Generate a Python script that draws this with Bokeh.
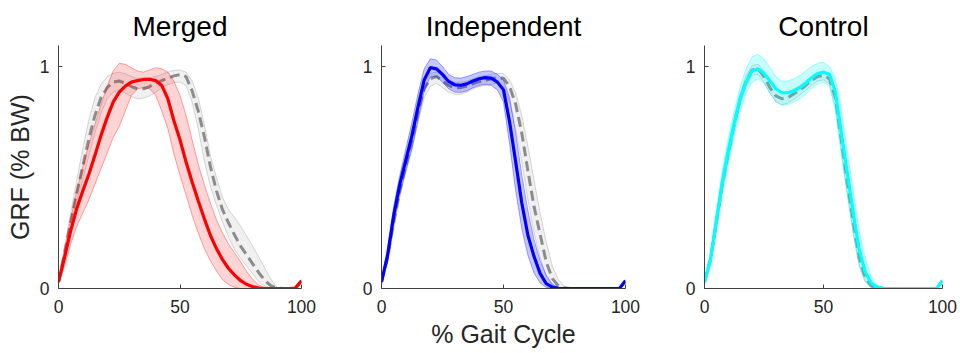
from bokeh.plotting import figure
from bokeh.layouts import row
from bokeh.models import Range1d, FixedTicker
from bokeh.embed import file_html
from bokeh.resources import INLINE

FONT = "Liberation Sans"

# % gait cycle sample points
X = [0, 2.5, 5, 7.5, 10, 12.5, 15, 17.5, 20, 22.5, 25, 27.5, 30, 32.5, 35, 37.5, 40,
     42.5, 45, 47.5, 50, 52.5, 55, 57.5, 60, 62.5, 65, 67.5, 70, 72.5, 75, 77.5, 80,
     82.5, 85, 87.5, 90, 92.5, 95, 97.5, 100]

titles = ["Merged", "Independent", "Control"]
colors = ["#ff0000", "#0000ff", "#00ffff"]
x_ticks = [0, 50, 100]
y_ticks = [0, 1]

# --- Merged group ---
merged_mean = [0.03, 0.14, 0.26, 0.36, 0.44, 0.515, 0.6, 0.69, 0.77, 0.84, 0.885, 0.912, 0.93, 0.937,
               0.942, 0.943, 0.937, 0.915, 0.855, 0.756, 0.67, 0.57, 0.48, 0.395, 0.315, 0.24, 0.18,
               0.13, 0.09, 0.06, 0.035, 0.018, 0.008, 0.002, 0, 0, 0, 0, 0, 0.002, 0.035]
merged_hi = [0.04, 0.17, 0.31, 0.44, 0.55, 0.65, 0.74, 0.83, 0.91, 0.98, 1.015, 1.01, 0.995, 0.98,
             0.975, 0.985, 0.995, 0.99, 0.975, 0.935, 0.87, 0.78, 0.67, 0.56, 0.47, 0.385, 0.31,
             0.25, 0.2, 0.16, 0.12, 0.075, 0.04, 0.015, 0.003, 0, 0, 0, 0, 0.003, 0.04]
merged_lo = [0.02, 0.1, 0.2, 0.28, 0.34, 0.4, 0.47, 0.54, 0.61, 0.68, 0.73, 0.8, 0.87, 0.9, 0.905,
             0.9, 0.87, 0.8, 0.72, 0.606, 0.51, 0.42, 0.33, 0.25, 0.18, 0.125, 0.08, 0.04, 0.018,
             0.005, 0, 0, 0, 0, 0, 0, 0, 0, 0, 0, 0.03]
merged_ref_mean = [0.03, 0.16, 0.3, 0.43, 0.55, 0.675, 0.78, 0.86, 0.905, 0.93, 0.935, 0.925, 0.91,
                   0.9, 0.9, 0.91, 0.925, 0.937, 0.948, 0.958, 0.964, 0.955, 0.89, 0.8, 0.685, 0.55,
                   0.44, 0.355, 0.295, 0.24, 0.19, 0.15, 0.11, 0.07, 0.035, 0.012, 0.002, 0, 0,
                   0.002, 0.035]
merged_ref_hi = [0.04, 0.19, 0.34, 0.49, 0.63, 0.76, 0.86, 0.92, 0.955, 0.97, 0.975, 0.968, 0.955,
                 0.948, 0.948, 0.95, 0.955, 0.965, 0.975, 0.983, 0.985, 0.975, 0.935, 0.86, 0.74,
                 0.6, 0.5, 0.41, 0.355, 0.32, 0.28, 0.235, 0.19, 0.14, 0.09, 0.04, 0.005, 0, 0,
                 0.003, 0.04]
merged_ref_lo = [0.02, 0.14, 0.27, 0.39, 0.49, 0.6, 0.7, 0.79, 0.855, 0.885, 0.895, 0.88, 0.865,
                 0.855, 0.858, 0.868, 0.885, 0.905, 0.918, 0.928, 0.93, 0.915, 0.84, 0.72, 0.575,
                 0.46, 0.375, 0.3, 0.23, 0.175, 0.135, 0.1, 0.065, 0.03, 0.01, 0, 0, 0, 0, 0, 0.03]

# --- Independent group ---
ind_mean = [0.03, 0.15, 0.33, 0.47, 0.58, 0.69, 0.82, 0.94, 0.995, 0.99, 0.965, 0.933, 0.918, 0.916,
            0.922, 0.935, 0.945, 0.95, 0.948, 0.93, 0.895, 0.75, 0.57, 0.385, 0.24, 0.145, 0.068,
            0.022, 0.006, 0.001, 0, 0, 0, 0, 0, 0, 0, 0, 0, 0, 0.035]
ind_hi = [0.04, 0.18, 0.37, 0.51, 0.63, 0.75, 0.88, 0.99, 1.035, 1.03, 1.0, 0.965, 0.95, 0.948, 0.955,
          0.965, 0.975, 0.98, 0.98, 0.965, 0.94, 0.86, 0.7, 0.51, 0.35, 0.22, 0.125, 0.06, 0.02,
          0.005, 0, 0, 0, 0, 0, 0, 0, 0, 0, 0.003, 0.04]
ind_lo = [0.02, 0.12, 0.29, 0.43, 0.53, 0.63, 0.76, 0.89, 0.955, 0.955, 0.93, 0.9, 0.885, 0.884, 0.89,
          0.905, 0.915, 0.92, 0.915, 0.895, 0.84, 0.65, 0.44, 0.27, 0.15, 0.07, 0.025, 0.005, 0, 0,
          0, 0, 0, 0, 0, 0, 0, 0, 0, 0, 0.03]
ind_ref_mean = [0.03, 0.14, 0.3, 0.44, 0.56, 0.67, 0.8, 0.9, 0.945, 0.955, 0.935, 0.915, 0.905, 0.905,
                0.912, 0.923, 0.932, 0.938, 0.945, 0.95, 0.948, 0.91, 0.83, 0.7, 0.53, 0.37, 0.245,
                0.12, 0.045, 0.012, 0.002, 0, 0, 0, 0, 0, 0, 0, 0, 0, 0.035]
ind_ref_hi = [0.04, 0.16, 0.33, 0.47, 0.59, 0.71, 0.84, 0.93, 0.97, 0.975, 0.96, 0.94, 0.93, 0.93,
              0.935, 0.945, 0.955, 0.96, 0.965, 0.97, 0.968, 0.94, 0.88, 0.78, 0.64, 0.49, 0.34,
              0.21, 0.1, 0.04, 0.01, 0, 0, 0, 0, 0, 0, 0, 0, 0.003, 0.04]
ind_ref_lo = [0.02, 0.12, 0.27, 0.41, 0.53, 0.63, 0.75, 0.86, 0.91, 0.925, 0.905, 0.885, 0.875, 0.875,
              0.885, 0.9, 0.91, 0.915, 0.92, 0.925, 0.91, 0.84, 0.72, 0.57, 0.4, 0.25, 0.14, 0.055,
              0.012, 0, 0, 0, 0, 0, 0, 0, 0, 0, 0, 0, 0.03]

# --- Control group ---
ctl_mean = [0.03, 0.13, 0.305, 0.48, 0.62, 0.745, 0.855, 0.93, 0.98, 0.99, 0.97, 0.935, 0.9, 0.882,
            0.882, 0.89, 0.905, 0.925, 0.95, 0.968, 0.975, 0.965, 0.885, 0.7, 0.52, 0.34, 0.175,
            0.075, 0.025, 0.006, 0.001, 0, 0, 0, 0, 0, 0, 0, 0, 0, 0.035]
ctl_hi = [0.04, 0.16, 0.35, 0.53, 0.68, 0.8, 0.91, 0.99, 1.045, 1.055, 1.035, 0.995, 0.955, 0.935,
          0.935, 0.945, 0.96, 0.98, 1.0, 1.015, 1.02, 1.0, 0.95, 0.8, 0.62, 0.44, 0.26, 0.14, 0.055,
          0.015, 0.003, 0, 0, 0, 0, 0, 0, 0, 0, 0.003, 0.04]
ctl_lo = [0.02, 0.1, 0.26, 0.43, 0.56, 0.69, 0.8, 0.88, 0.93, 0.945, 0.925, 0.88, 0.845, 0.825, 0.828,
          0.84, 0.855, 0.875, 0.9, 0.92, 0.93, 0.91, 0.8, 0.6, 0.42, 0.25, 0.105, 0.035, 0.005, 0,
          0, 0, 0, 0, 0, 0, 0, 0, 0, 0, 0.03]
ctl_ref_mean = [0.03, 0.13, 0.3, 0.47, 0.61, 0.74, 0.855, 0.935, 0.985, 0.99, 0.955, 0.905, 0.868,
                0.855, 0.86, 0.877, 0.895, 0.915, 0.938, 0.955, 0.96, 0.945, 0.86, 0.67, 0.48, 0.3,
                0.14, 0.05, 0.012, 0.002, 0, 0, 0, 0, 0, 0, 0, 0, 0, 0, 0.035]
ctl_ref_hi = [0.04, 0.15, 0.33, 0.5, 0.64, 0.77, 0.88, 0.96, 1.005, 1.01, 0.98, 0.93, 0.895, 0.882,
              0.885, 0.9, 0.915, 0.935, 0.955, 0.972, 0.978, 0.965, 0.9, 0.72, 0.53, 0.35, 0.18,
              0.075, 0.022, 0.004, 0, 0, 0, 0, 0, 0, 0, 0, 0, 0.003, 0.04]
ctl_ref_lo = [0.02, 0.11, 0.27, 0.44, 0.58, 0.71, 0.83, 0.91, 0.96, 0.965, 0.93, 0.88, 0.84, 0.828,
              0.835, 0.852, 0.872, 0.893, 0.915, 0.935, 0.94, 0.92, 0.82, 0.62, 0.43, 0.25, 0.1,
              0.03, 0.004, 0, 0, 0, 0, 0, 0, 0, 0, 0, 0, 0, 0.03]

groups = [
    (merged_mean, merged_lo, merged_hi, merged_ref_mean, merged_ref_lo, merged_ref_hi),
    (ind_mean, ind_lo, ind_hi, ind_ref_mean, ind_ref_lo, ind_ref_hi),
    (ctl_mean, ctl_lo, ctl_hi, ctl_ref_mean, ctl_ref_lo, ctl_ref_hi),
]
band_alpha = [0.17, 0.22, 0.22]

# layout: (figure width, left border, right border)
sizes = [(331, 58, 30), (323, 50, 29), (306, 50, 18)]

figs = []
for i in range(3):
    w, lb, rb = sizes[i]
    mean, lo, hi, rmean, rlo, rhi = groups[i]
    c = colors[i]
    p = figure(width=w, height=353, x_range=Range1d(0, 100), y_range=Range1d(0, 1.095),
               output_backend="svg", toolbar_location=None,
               min_border_left=lb, min_border_right=rb, min_border_top=45, min_border_bottom=65)
    p.outline_line_color = None
    p.grid.visible = False
    p.background_fill_color = "white"
    p.border_fill_color = "white"

    p.title.text = titles[i]
    p.title.align = "center"
    p.title.text_font = FONT
    p.title.text_font_size = "28px"
    p.title.text_font_style = "normal"
    p.title.text_color = "#000000"
    p.title.standoff = 7

    for ax in (p.xaxis[0], p.yaxis[0]):
        ax.axis_line_color = "#404040"
        ax.axis_line_width = 1
        ax.major_tick_line_color = "#404040"
        ax.major_tick_in = 4
        ax.major_tick_out = 0
        ax.minor_tick_line_color = None
        ax.major_label_text_font = FONT
        ax.major_label_text_font_size = "17.5px"
        ax.major_label_text_color = "#262626"
    p.xaxis.ticker = FixedTicker(ticks=x_ticks)
    p.yaxis.ticker = FixedTicker(ticks=y_ticks)
    p.xaxis.major_label_standoff = 11
    p.yaxis.major_label_standoff = 9

    if i == 0:
        p.yaxis.axis_label = "GRF (% BW)"
        p.yaxis.axis_label_text_font = FONT
        p.yaxis.axis_label_text_font_size = "25px"
        p.yaxis.axis_label_text_font_style = "normal"
        p.yaxis.axis_label_text_color = "#262626"
        p.yaxis.axis_label_standoff = 3
    if i == 1:
        p.xaxis.axis_label = "% Gait Cycle"
        p.xaxis.axis_label_text_font = FONT
        p.xaxis.axis_label_text_font_size = "25px"
        p.xaxis.axis_label_text_font_style = "normal"
        p.xaxis.axis_label_text_color = "#262626"
        p.xaxis.axis_label_standoff = 4

    # reference (gray) band and mean
    p.varea(x=X, y1=rlo, y2=rhi, fill_color="#808080", fill_alpha=0.12)
    p.line(X, rhi, line_color="#808080", line_alpha=0.3, line_width=1)
    p.line(X, rlo, line_color="#808080", line_alpha=0.3, line_width=1)
    p.line(X, rmean, line_color="#8c8c8c", line_width=3, line_dash="10 5")
    # group band and mean
    p.varea(x=X, y1=lo, y2=hi, fill_color=c, fill_alpha=band_alpha[i])
    p.line(X, hi, line_color=c, line_alpha=0.35, line_width=1)
    p.line(X, lo, line_color=c, line_alpha=0.35, line_width=1)
    p.line(X, mean, line_color=c, line_width=3.2)
    figs.append(p)

layout = row(*figs)
open("out.html", "w").write(file_html(layout, INLINE))
